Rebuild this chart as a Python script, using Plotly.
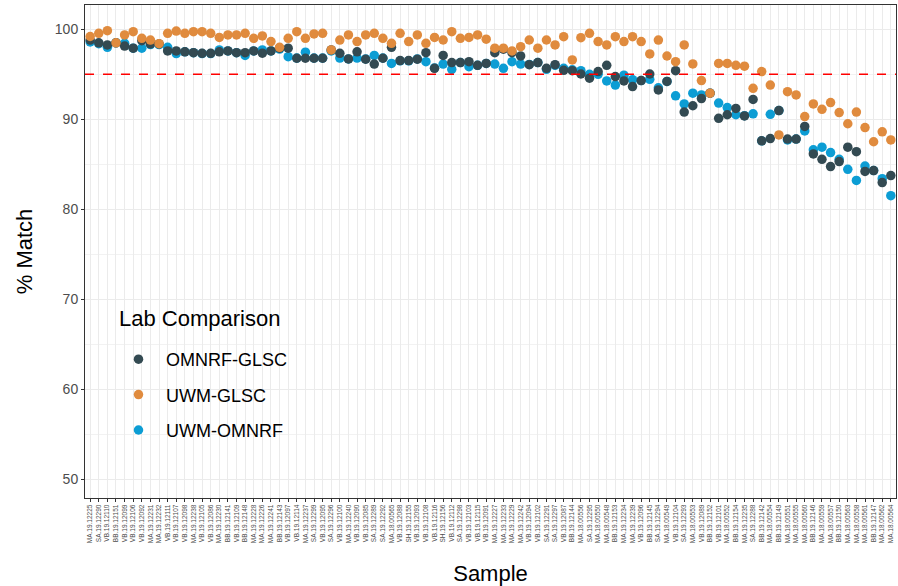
import plotly.graph_objects as go

samples = [
    "MA.19.12225", "SA.19.12290", "VB.19.12110", "BB.19.12151", "VB.19.12099", "VB.19.12106",
    "VB.19.12092", "MA.19.12231", "MA.19.12232", "VB.19.12111", "VB.19.12107", "VB.19.12098",
    "MA.19.12238", "VB.19.12105", "VB.19.12086", "MA.19.12230", "BB.19.12141", "VB.19.12109",
    "BB.19.12148", "MA.19.12228", "MA.19.12226", "MA.19.12241", "BB.19.12143", "VB.19.12097",
    "VB.19.12114", "MA.19.12237", "SA.19.12299", "VB.19.12095", "SA.19.12296", "VB.19.12100",
    "MA.19.12240", "VB.19.12090", "VB.19.12085", "SA.19.12289", "SA.19.12292", "MA.18.00565",
    "VB.19.12088", "SH.19.12155", "VB.19.12093", "VB.19.12108", "VB.19.12116", "SH.19.12156",
    "VB.19.12112", "SA.19.12298", "VB.19.12103", "VB.19.12115", "VB.19.12091", "MA.19.12227",
    "MA.19.12233", "MA.19.12229", "MA.19.12242", "VB.19.12094", "VB.19.12102", "SA.19.12291",
    "SA.19.12297", "VB.19.12087", "BB.19.12144", "MA.18.00556", "SA.19.12295", "MA.18.00550",
    "MA.18.00548", "BB.19.12153", "MA.19.12234", "MA.19.12239", "VB.19.12096", "BB.19.12145",
    "SA.19.12294", "MA.18.00549", "VB.19.12104", "SA.19.12293", "MA.18.00553", "VB.19.12089",
    "BB.19.12152", "VB.19.12101", "MA.18.00552", "BB.19.12154", "MA.19.12235", "SA.19.12288",
    "BB.19.12142", "MA.18.00554", "BB.19.12149", "MA.18.00551", "MA.18.00555", "MA.18.00560",
    "BB.19.12146", "MA.18.00559", "MA.18.00557", "BB.19.12150", "MA.18.00563", "MA.18.00558",
    "MA.18.00561", "BB.19.12147", "MA.18.00562", "MA.18.00564",
]

omnrf_glsc = [
    98.8, 98.5, 98.26, 98.5, 98.14, 97.9, 98.74, 98.37, 98.37, 97.6,
    97.6, 97.5, 97.4, 97.33, 97.33, 97.5, 97.6, 97.4, 97.4, 97.6,
    97.35, 97.6, 97.9, 97.9, 96.78, 96.78, 96.78, 96.78, 97.7, 97.33,
    96.7, 97.5, 96.67, 96.14, 96.78, 98.0, 96.52, 96.52, 96.67, 97.4,
    95.66, 97.1, 96.3, 96.3, 96.4, 96.0, 96.2, 97.4, 97.78, 97.4,
    97.04, 96.07, 96.3, 95.66, 96.07, 95.44, 95.4, 95.03, 94.56, 95.3,
    96.0, 94.74, 94.26, 93.63, 94.3, 95.03, 93.26, 94.2, 95.4, 90.8,
    91.5, 92.3, 92.9, 90.1, 90.5, 91.2, 90.37, 92.2, 87.6, 87.85,
    90.96, 87.8, 87.8, 89.2, 86.15, 85.55, 84.74, 85.3, 86.9, 86.4,
    84.2, 84.3, 82.96, 83.74,
]

uwm_glsc = [
    99.2, 99.55, 99.85, 98.5, 99.37, 99.74, 99.0, 98.8, 98.4, 99.55,
    99.8, 99.55, 99.74, 99.74, 99.55, 99.1, 99.37, 99.37, 99.55, 99.0,
    99.26, 98.63, 98.0, 99.0, 99.74, 99.0, 99.48, 99.55, 97.7, 98.8,
    99.37, 98.63, 99.37, 99.55, 99.0, 98.44, 99.55, 98.63, 99.37, 98.44,
    99.1, 98.81, 99.74, 99.0, 99.1, 99.37, 98.9, 97.9, 97.9, 97.6,
    98.07, 98.81, 97.9, 98.81, 98.26, 99.18, 96.59, 99.07, 99.55, 98.63,
    98.26, 99.18, 98.63, 99.18, 98.63, 97.26, 98.8, 97.03, 96.4, 98.26,
    96.15, 94.3, 92.9, 96.2, 96.2, 96.0, 95.9, 93.44, 95.3, 93.8,
    88.26, 93.07, 92.7, 90.3, 91.7, 91.1, 91.85, 90.74, 89.5, 90.8,
    89.07, 87.5, 88.6, 87.7,
]

uwm_omnrf = [
    98.6, 98.4, 98.0, 98.5, 98.44, 97.9, 97.9, 98.3, 98.3, 98.0,
    97.3, 97.5, 97.4, 97.3, 97.3, 97.7, 97.6, 97.4, 97.1, 97.6,
    97.7, 97.6, 97.8, 96.96, 96.8, 97.45, 96.8, 96.8, 97.6, 96.8,
    96.7, 96.8, 96.7, 97.1, 96.8, 96.2, 96.5, 96.5, 96.7, 96.4,
    95.7, 96.14, 95.55, 96.3, 95.85, 96.0, 96.2, 96.14, 95.66, 96.4,
    96.14, 96.1, 96.3, 95.55, 96.0, 95.66, 95.5, 95.4, 95.0, 95.0,
    94.26, 93.8, 94.9, 94.4, 94.3, 94.44, 93.5, 94.2, 92.6, 91.7,
    92.9, 92.7, 92.9, 91.8, 91.3, 90.5, 90.4, 90.6, 87.6, 90.55,
    90.96, 87.7, 87.8, 88.7, 86.6, 86.9, 86.3, 85.55, 84.44, 83.2,
    84.8, 84.3, 83.4, 81.5,
]

threshold = 95

FONT = "Liberation Sans, Arial, sans-serif"
C_DARK = "#334A52"
C_ORANGE = "#E08B3E"
C_BLUE = "#0C9DD4"

L, R, T, B = 85, 2, 5, 88
PW, PH = 898 - L - R, 586 - T - B


def px_x(x):
    return (x - L) / PW


def px_y(y):
    return (586 - B - y) / PH


fig = go.Figure()
series = [
    ("UWM-OMNRF", uwm_omnrf, C_BLUE, 3),
    ("OMNRF-GLSC", omnrf_glsc, C_DARK, 1),
    ("UWM-GLSC", uwm_glsc, C_ORANGE, 2),
]
for name, vals, col, rank in series:
    fig.add_trace(go.Scatter(
        x=samples, y=vals, mode="markers", name=name,
        marker=dict(color=col, size=9.5, line=dict(width=0)),
        legendrank=rank, legendgroup=name,
    ))

fig.add_hline(y=threshold, line=dict(color="#FF0000", width=1.6, dash="dash"))

# white legend background box
fig.add_shape(type="rect", xref="paper", yref="paper",
              x0=px_x(105), x1=px_x(303), y0=px_y(461), y1=px_y(293),
              fillcolor="white", line=dict(width=0), layer="between")

fig.add_annotation(text="Lab Comparison", xref="paper", yref="paper",
                   x=px_x(117), y=px_y(318), xanchor="left", yanchor="middle",
                   showarrow=False, font=dict(size=22, family=FONT, color="black"))

fig.update_layout(
    width=898, height=586,
    margin=dict(l=L, r=R, t=T, b=B, autoexpand=False),
    plot_bgcolor="white", paper_bgcolor="white",
    font=dict(family=FONT, color="black"),
    showlegend=True,
    legend=dict(
        x=px_x(111), y=px_y(341), xanchor="left", yanchor="top",
        bgcolor="rgba(0,0,0,0)", borderwidth=0,
        font=dict(size=18, family=FONT), tracegroupgap=9, itemwidth=45,
    ),
    xaxis=dict(
        type="category", categoryorder="array", categoryarray=samples,
        range=[-0.6, len(samples) - 0.4], automargin=False,
        tickangle=-90, tickfont=dict(size=6.5, color="#4D4D4D", family=FONT),
        ticks="outside", ticklen=3, tickcolor="#333333", tickwidth=1,
        showgrid=True, gridcolor="#EBEBEB", gridwidth=1.3,
        showline=True, linecolor="#333333", linewidth=1, mirror=True,
        zeroline=False,
        title=dict(text="Sample", font=dict(size=22, family=FONT), standoff=24),
    ),
    yaxis=dict(
        range=[47.9, 102.7], tickvals=[50, 60, 70, 80, 90, 100], automargin=False,
        tickfont=dict(size=14, color="#4D4D4D", family=FONT),
        ticks="outside", ticklen=3, tickcolor="#333333",
        showgrid=True, gridcolor="#EBEBEB", gridwidth=1.3,
        minor=dict(tickvals=[55, 65, 75, 85, 95], showgrid=True, gridcolor="#F2F2F2", gridwidth=0.7, ticks=""),
        showline=True, linecolor="#333333", linewidth=1, mirror=True,
        zeroline=False,
        title=dict(text="% Match", font=dict(size=22, family=FONT), standoff=16),
    ),
)

fig.write_html("out.html", config={"displayModeBar": False},
               post_script="document.body.style.margin='0';")
